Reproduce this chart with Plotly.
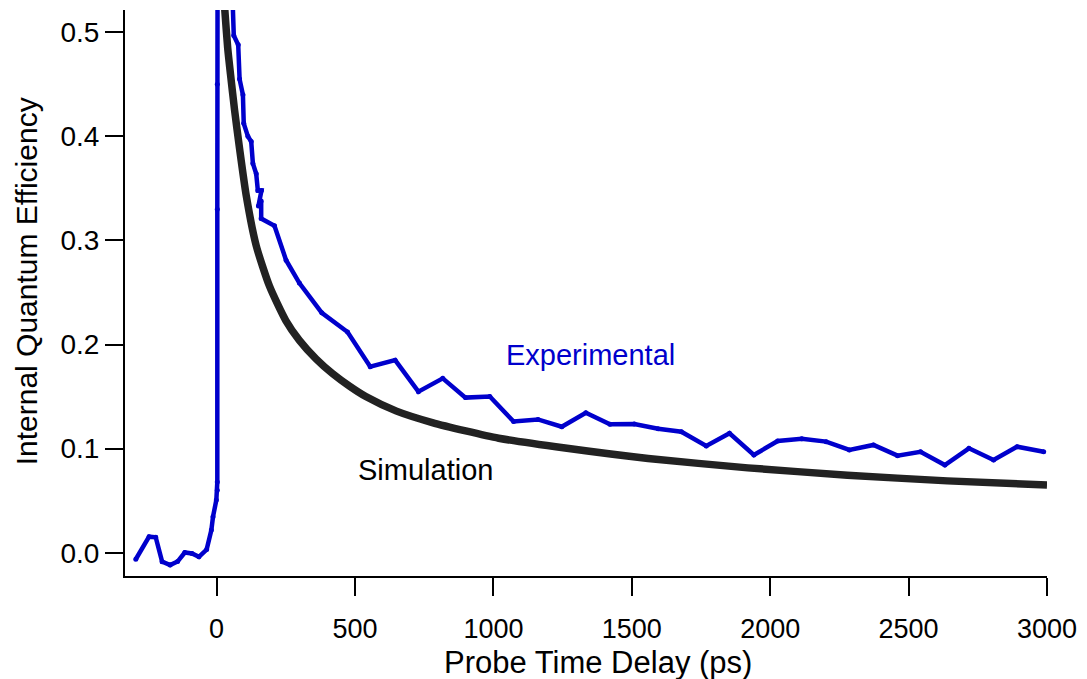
import plotly.graph_objects as go

# Measured internal quantum efficiency versus probe delay
exp_delay_ps = [
    -292, -244, -220, -197, -168, -141, -115, -89, -64, -36, -19, -13, -1, 2.5, 2.5,
    2.5, 2.5, 5,
    62, 78, 83, 95, 98, 113, 125, 131, 143, 149, 162, 151, 161, 161,
    209, 251, 299, 380, 473, 555, 645, 729, 817, 899, 987, 1073, 1161, 1247,
    1334, 1421, 1509, 1595, 1679, 1769, 1853, 1941, 2027, 2114, 2202, 2286,
    2373, 2460, 2543, 2631, 2718, 2807, 2892, 2988,
]
exp_iqe = [
    -0.0063, 0.0154, 0.0148, -0.0086, -0.0118, -0.0085, 0.0002, -0.0008, -0.004, 0.003,
    0.0218, 0.0346, 0.0506, 0.060, 0.068,
    0.33, 0.45, 0.95,
    0.497, 0.488, 0.455, 0.440, 0.4125, 0.400, 0.395, 0.374, 0.364, 0.348, 0.348,
    0.333, 0.338, 0.321,
    0.314, 0.281, 0.259, 0.2305, 0.212, 0.1787, 0.185, 0.1547, 0.1675, 0.149, 0.150,
    0.126, 0.128, 0.121, 0.1345, 0.1233, 0.1236, 0.119, 0.1162, 0.1025, 0.1147,
    0.0939, 0.1073, 0.1095, 0.1067, 0.0987, 0.1035, 0.0932, 0.097, 0.0842, 0.1003,
    0.089, 0.1018, 0.097,
]

# Simulated internal quantum efficiency
sim_delay_ps = [
    20, 30, 40, 50, 65, 83, 107, 143, 191, 250, 299, 360, 419, 480, 539, 650, 779,
    900, 1019, 1259, 1559, 1919, 2279, 2640, 3000,
]
sim_iqe = [
    0.56, 0.52, 0.485, 0.46, 0.425, 0.388, 0.343, 0.295, 0.256, 0.223, 0.204, 0.186,
    0.172, 0.160, 0.150, 0.136, 0.125, 0.117, 0.110, 0.1005, 0.0905, 0.0815, 0.0745,
    0.069, 0.065,
]

x_ticks = [0, 500, 1000, 1500, 2000, 2500, 3000]
y_ticks = [0.0, 0.1, 0.2, 0.3, 0.4, 0.5]
y_tick_text = ["0.0", "0.1", "0.2", "0.3", "0.4", "0.5"]

BLUE = "#0000CC"
DARK = "#222222"
FONT = "Liberation Sans, Arial, sans-serif"

# Plot-area geometry in pixels (used to place the axis titles)
FIG_W, FIG_H = 1087, 679
M_L, M_R, M_T, M_B = 125, 37, 10, 103
PLOT_W = FIG_W - M_L - M_R
PLOT_H = FIG_H - M_T - M_B


def paper_x(px):
    return (px - M_L) / PLOT_W


def paper_y(py):
    return (FIG_H - M_B - py) / PLOT_H


fig = go.Figure()

fig.add_trace(go.Scatter(
    x=sim_delay_ps, y=sim_iqe, mode="lines",
    line=dict(color=DARK, width=7.5, shape="spline", smoothing=0.6),
    showlegend=False, hoverinfo="skip",
))

fig.add_trace(go.Scatter(
    x=exp_delay_ps, y=exp_iqe, mode="lines+markers",
    line=dict(color=BLUE, width=4.5),
    marker=dict(color=BLUE, size=5),
    showlegend=False, hoverinfo="skip",
))

fig.add_annotation(
    x=1350, y=0.190, xref="x", yref="y", text="Experimental", showarrow=False,
    font=dict(family=FONT, size=29, color=BLUE), xanchor="center", yanchor="middle",
)
fig.add_annotation(
    x=753, y=0.079, xref="x", yref="y", text="Simulation", showarrow=False,
    font=dict(family=FONT, size=29, color="black"), xanchor="center", yanchor="middle",
)

# Axis titles
fig.add_annotation(
    x=paper_x(600), y=paper_y(662), xref="paper", yref="paper",
    text="Probe Time Delay (ps)", showarrow=False,
    font=dict(family=FONT, size=31, color="black"), xanchor="center", yanchor="middle",
)
fig.add_annotation(
    x=paper_x(26), y=paper_y(281), xref="paper", yref="paper",
    text="Internal Quantum Efficiency", showarrow=False, textangle=-90,
    font=dict(family=FONT, size=30, color="black"), xanchor="center", yanchor="middle",
)

axis_common = dict(
    showline=True, linecolor="black", linewidth=2, mirror=False,
    ticks="outside", ticklen=18, tickwidth=2, tickcolor="black",
    showgrid=False, zeroline=False,
)

fig.update_xaxes(
    range=[-331, 3000], tickvals=x_ticks, ticklabelstandoff=10,
    tickfont=dict(family=FONT, size=27, color="black"), **axis_common,
)
fig.update_yaxes(
    range=[-0.0224, 0.5214], tickvals=y_ticks, ticktext=y_tick_text,
    tickfont=dict(family=FONT, size=28, color="black"), **axis_common,
)

fig.update_layout(
    width=FIG_W, height=FIG_H,
    margin=dict(l=M_L, r=M_R, t=M_T, b=M_B),
    paper_bgcolor="white", plot_bgcolor="white",
)

fig.write_html("out.html")
